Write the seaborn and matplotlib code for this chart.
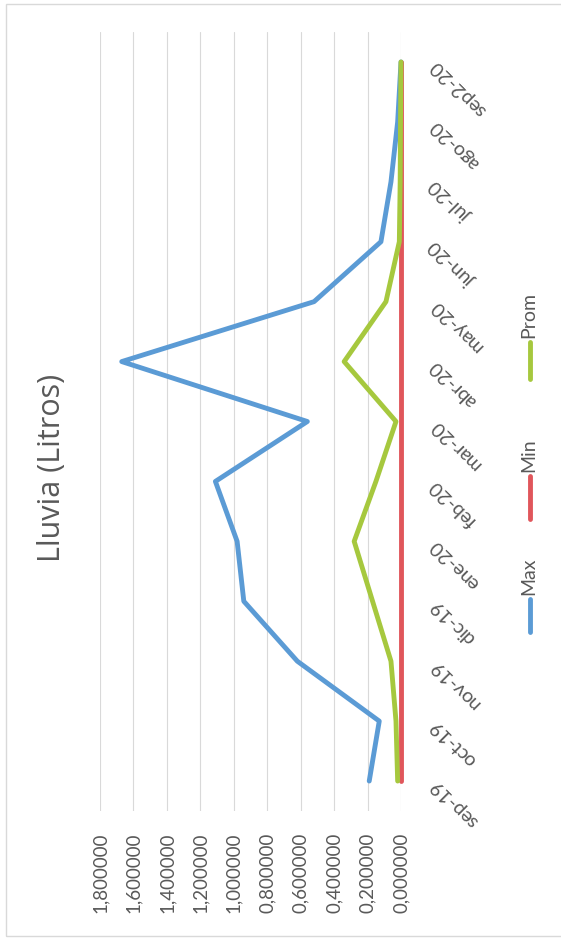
import pandas as pd
import seaborn as sns
import matplotlib.pyplot as plt
from matplotlib.lines import Line2D
from matplotlib.patches import Rectangle

# Monthly rainfall summary (litros), series drawn along the vertical category axis
months = ["sep-19", "oct-19", "nov-19", "dic-19", "ene-20", "feb-20", "mar-20",
          "abr-20", "may-20", "jun-20", "jul-20", "ago-20", "sep2-20"]
max_vals = [0.19, 0.13, 0.62, 0.94, 0.98, 1.11, 0.56, 1.67, 0.52, 0.12, 0.06, 0.02, 0.0]
min_vals = [0.0, 0.0, 0.0, 0.0, 0.0, 0.0, 0.0, 0.0, 0.0, 0.0, 0.0, 0.0, 0.0]
prom_vals = [0.02, 0.03, 0.06, 0.17, 0.28, 0.15, 0.03, 0.34, 0.09, 0.01, 0.005, 0.003, 0.0]
series_names = ["Max", "Min", "Prom"]
value_ticks = [0.0, 0.2, 0.4, 0.6, 0.8, 1.0, 1.2, 1.4, 1.6, 1.8]
title = "Lluvia (Litros)"

colors = {"Max": "#5b9bd5", "Min": "#e0565b", "Prom": "#a6c83e"}
text_color = "#595959"
line_w = 3.5

sns.set_theme(style="white")
plt.rcParams["font.family"] = ["Lato", "DejaVu Sans"]

df = pd.DataFrame({
    "serie": [s for s in series_names for _ in months],
    "pos": list(range(len(months))) * len(series_names),
    "valor": max_vals + min_vals + prom_vals,
})

W, H = 561, 945
fig = plt.figure(figsize=(W / 100, H / 100), dpi=100)
fig.patch.set_facecolor("white")

# plot area: value axis runs right-to-left, categories bottom-to-top
left_px, right_px, top_px, bottom_px = 100, 401, 33, 812
ax = fig.add_axes([left_px / W, 1 - bottom_px / H,
                   (right_px - left_px) / W, (bottom_px - top_px) / H])

sns.lineplot(data=df, x="valor", y="pos", hue="serie", hue_order=series_names,
             palette=colors, orient="y", estimator=None, linewidth=line_w,
             solid_capstyle="round", legend=False, ax=ax)
# the zero line sits on the plot edge, so keep the full stroke visible
for ln in ax.get_lines():
    ln.set_clip_on(False)

ax.set_xlim(1.8, 0)
ax.set_ylim(-0.5, len(months) - 0.5)
ax.set_xticks(value_ticks)
ax.set_xticklabels([f"{v:.6f}".replace(".", ",") for v in value_ticks],
                   rotation=90, fontsize=13.5, color=text_color)
ax.set_yticks(range(len(months)))
ax.set_yticklabels(months, fontsize=14, color=text_color)
ax.yaxis.tick_right()
ax.tick_params(axis="x", length=0, pad=15)
ax.tick_params(axis="y", length=0, pad=23)
for lab in ax.get_yticklabels():
    lab.set_rotation(135)
    lab.set_rotation_mode("anchor")
    lab.set_ha("right")
    lab.set_va("center")
ax.set_xlabel("")
ax.set_ylabel("")
ax.grid(axis="x", color="#d9d9d9", linewidth=0.8)
ax.grid(axis="y", visible=False)
ax.set_axisbelow(True)
for sp in ax.spines.values():
    sp.set_visible(False)
ax.set_facecolor("none")

# chart title
fig.text(52 / W, 1 - 468 / H, title, rotation=90, ha="center", va="center",
         fontsize=22, color=text_color, family=["Open Sans", "DejaVu Sans"])

# legend: key segment below, name above it, stacked bottom-to-top
legend_x = 530
legend_keys = {"Max": (600, 633), "Min": (477, 520), "Prom": (343, 380)}
for name in series_names:
    y0, y1 = legend_keys[name]
    fig.add_artist(Line2D([legend_x / W, legend_x / W], [1 - y1 / H, 1 - y0 / H],
                          transform=fig.transFigure, color=colors[name],
                          linewidth=line_w, solid_capstyle="round"))
    fig.text((legend_x - 1) / W, 1 - (y0 - 5) / H, name, rotation=90,
             ha="center", va="bottom", fontsize=14, color=text_color)

# chart area border
fig.add_artist(Rectangle((6 / W, 1 - 937 / H), (W + 10) / W, (937 - 5) / H,
                         transform=fig.transFigure, fill=False,
                         edgecolor="#d9d9d9", linewidth=1))

fig.savefig("out.png", dpi=100)
